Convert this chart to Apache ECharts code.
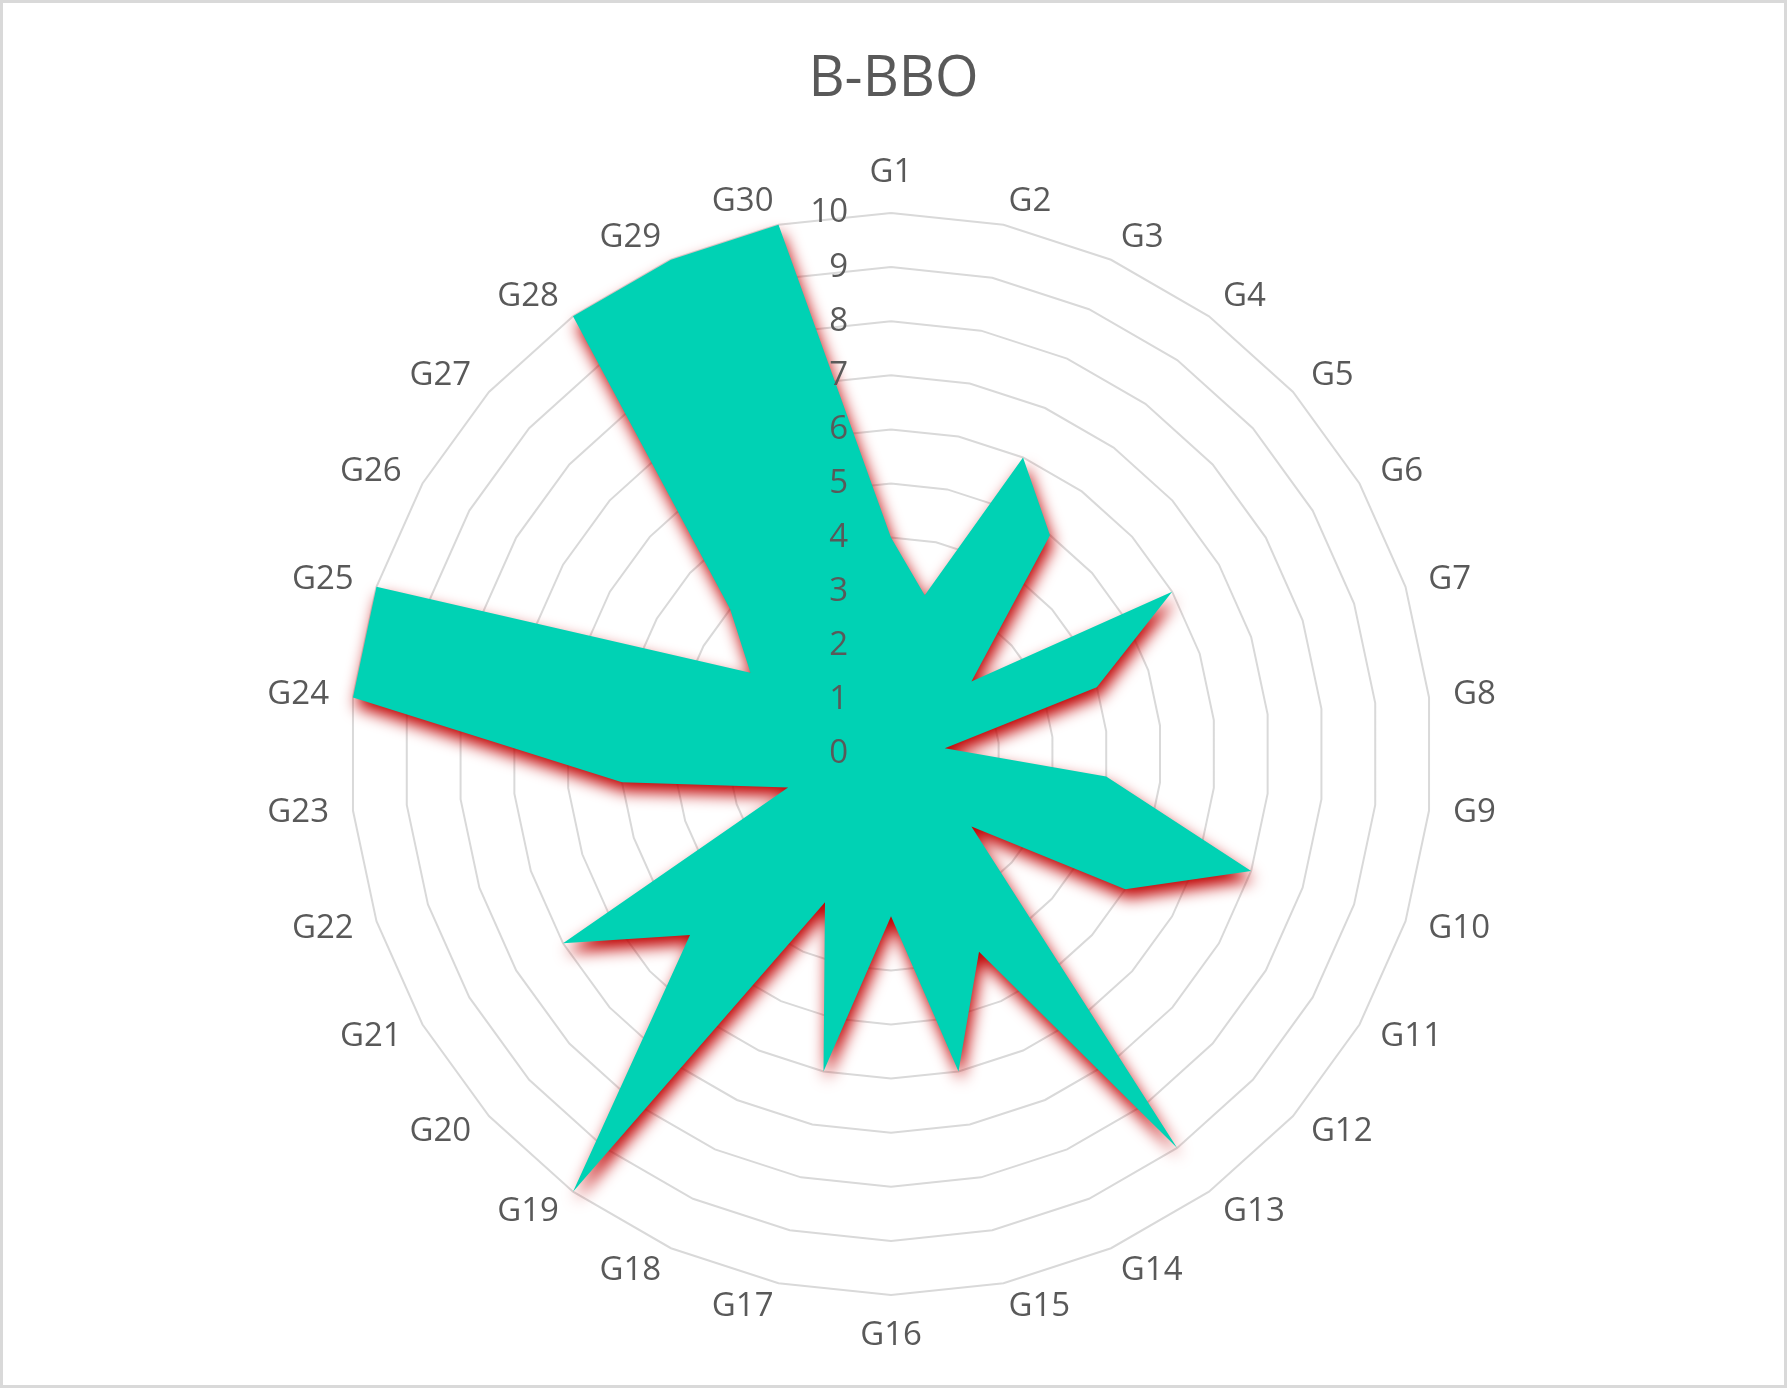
<!DOCTYPE html>
<html>
<head>
<meta charset="utf-8">
<script src="https://cdn.jsdelivr.net/npm/echarts@6/dist/echarts.min.js"></script>
<style>
  html, body { margin: 0; padding: 0; background: #fff; }
  #radar { width: 1787px; height: 1388px; box-sizing: border-box; border: 3px solid #d9d9d9; }
</style>
</head>
<body>
<div id="radar"></div>
<script>
// B-BBO 雷达图
var categories = ['G1','G2','G3','G4','G5','G6','G7','G8','G9','G10',
  'G11','G12','G13','G14','G15','G16','G17','G18','G19','G20',
  'G21','G22','G23','G24','G25','G26','G27','G28','G29','G30'];
var values = [4, 3, 6, 5, 2, 6, 4, 1, 4, 7,
  5, 2, 9, 4, 6, 3, 6, 3, 10, 5,
  7, 2, 5, 10, 10, 3, 4, 10, 10, 10];
var axisMax = 10;

// echarts 雷达默认逆时针排列, 这里调成顺时针: G1, G30, G29 ... G2
var order = [0];
for (var i = categories.length - 1; i > 0; i--) order.push(i);

var indicators = order.map(function (idx) {
  return { name: categories[idx], max: axisMax, min: 0 };
});
// 第二个雷达坐标只用来把刻度数字画在面积上面
var labelIndicators = order.map(function (idx, k) {
  var ind = { name: categories[idx], max: axisMax, min: 0 };
  if (k === 0) ind.axisLabel = { show: true };
  return ind;
});
var seriesData = order.map(function (idx) { return values[idx]; });

var radarChart = echarts.init(document.getElementById('radar'));

var textColor = '#595959';
var center = [888, 751];
var radius = 541;

var option = {
  backgroundColor: '#fff',
  title: {
    text: 'B-BBO',
    left: 'center',
    top: 44,
    textStyle: {
      fontFamily: 'Open Sans',
      fontSize: 56,
      fontWeight: 'normal',
      color: textColor
    }
  },
  radar: [
    {
      center: center,
      radius: radius,
      startAngle: 90,
      splitNumber: 10,
      shape: 'polygon',
      indicator: indicators,
      nameGap: 24,
      axisName: {
        color: textColor,
        fontFamily: 'Open Sans',
        fontSize: 33
      },
      axisLine: { show: false },
      axisTick: { show: false },
      axisLabel: { show: false },
      splitLine: {
        lineStyle: { color: '#d9d9d9', width: 2 }
      },
      splitArea: { show: false }
    },
    {
      z: 10,
      center: center,
      radius: radius,
      startAngle: 90,
      splitNumber: 10,
      shape: 'polygon',
      indicator: labelIndicators,
      axisName: { show: false },
      axisLine: { show: false },
      axisTick: { show: false },
      axisLabel: {
        show: false,
        color: textColor,
        fontFamily: 'Open Sans',
        fontSize: 33,
        margin: 43
      },
      splitLine: { show: false },
      splitArea: { show: false }
    }
  ],
  series: [
    {
      name: 'B-BBO',
      type: 'radar',
      radarIndex: 0,
      symbol: 'none',
      lineStyle: { width: 0, color: '#00d2b4' },
      areaStyle: {
        color: '#00d2b4',
        opacity: 1,
        shadowColor: '#c00000',
        shadowBlur: 16,
        shadowOffsetX: 3,
        shadowOffsetY: 9
      },
      data: [{ value: seriesData, name: 'B-BBO' }]
    }
  ]
};

radarChart.setOption(option);
</script>
</body>
</html>
